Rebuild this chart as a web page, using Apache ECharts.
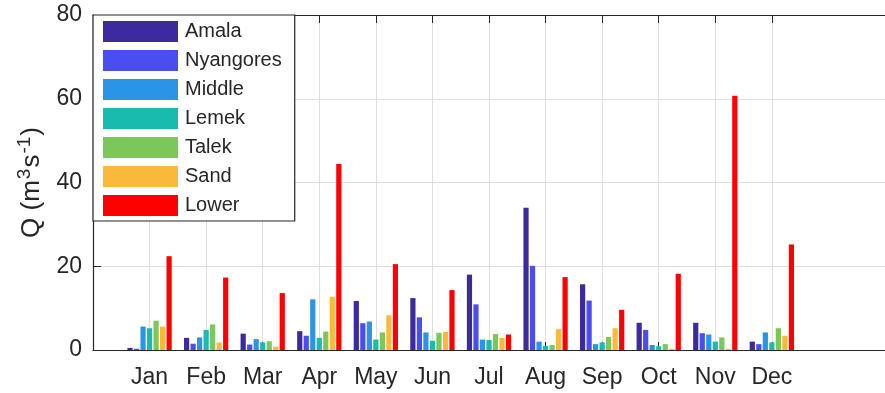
<!DOCTYPE html>
<html>
<head>
<meta charset="utf-8">
<title>Monthly discharge</title>
<script src="https://cdn.jsdelivr.net/npm/echarts@6/dist/echarts.min.js"></script>
<style>
  html, body { margin: 0; padding: 0; background: #ffffff; }
  #chart { width: 885px; height: 393px; }
</style>
</head>
<body>
<div id="chart"></div>
<script>
// Mean monthly discharge (m3/s) per river station
const months = ['Jan', 'Feb', 'Mar', 'Apr', 'May', 'Jun', 'Jul', 'Aug', 'Sep', 'Oct', 'Nov', 'Dec'];
const stations = ['Amala', 'Nyangores', 'Middle', 'Lemek', 'Talek', 'Sand', 'Lower'];

const amala     = [0.5, 2.9, 3.9, 4.5, 11.7, 12.4, 18.0, 34.0, 15.7, 6.5, 6.5, 2.0];
const nyangores = [0.3, 1.5, 1.3, 3.4, 6.4, 7.8, 10.9, 20.1, 11.8, 4.8, 4.0, 1.4];
const middle    = [5.6, 3.0, 2.6, 12.1, 6.8, 4.2, 2.5, 2.0, 1.4, 1.2, 3.7, 4.2];
const lemek     = [5.2, 4.8, 1.8, 2.9, 2.5, 2.2, 2.4, 1.0, 1.8, 0.9, 2.0, 1.8];
const talek     = [7.0, 6.1, 2.1, 4.4, 4.2, 4.1, 3.8, 1.2, 3.1, 1.4, 3.0, 5.2];
const sand      = [5.6, 1.8, 0.8, 12.7, 8.3, 4.3, 2.9, 5.0, 5.2, 0.3, 0.3, 3.4];
const lower     = [22.4, 17.3, 13.6, 44.4, 20.5, 14.3, 3.7, 17.4, 9.6, 18.2, 60.7, 25.2];

const seriesValues = [amala, nyangores, middle, lemek, talek, sand, lower];
const colors = ['#3c2a9e', '#4a4ef0', '#2a95e6', '#18bbae', '#7cc65a', '#fbb93c', '#ff0000'];

const yTicks = [0, 20, 40, 60, 80];

// The x scale runs from 0 to 14 with months placed at 1..12
const axisCats = [''].concat(months, ['', '']);
const isMonth = (idx, name) => name !== '';

const font = 'Liberation Sans, Arial, Helvetica, sans-serif';
const ink = '#262626';

const chart = echarts.init(document.getElementById('chart'), null, { renderer: 'canvas' });

const xCommon = {
  type: 'category',
  data: axisCats,
  boundaryGap: false,
  min: 0,
  max: axisCats.length - 1,
  axisLine: { show: true, lineStyle: { color: ink, width: 1.2 } },
  axisTick: { show: true, inside: true, length: 8, interval: isMonth, lineStyle: { color: ink } }
};

chart.setOption({
  animation: false,
  backgroundColor: '#ffffff',
  grid: { left: 93, top: 15, width: 804, height: 335, containLabel: false },
  legend: {
    data: stations,
    orient: 'vertical',
    left: 93,
    top: 15,
    padding: [6, 13, 5, 10],
    itemWidth: 75,
    itemHeight: 21,
    itemGap: 8,
    icon: 'rect',
    backgroundColor: '#ffffff',
    borderColor: ink,
    borderWidth: 1.2,
    textStyle: { fontFamily: font, fontSize: 20, color: ink, lineHeight: 21, padding: [0, 0, 0, 2] }
  },
  xAxis: [
    Object.assign({}, xCommon, {
      position: 'bottom',
      axisLabel: {
        show: true, interval: isMonth, margin: 16,
        fontFamily: font, fontSize: 23, color: ink
      },
      splitLine: { show: true, interval: isMonth, lineStyle: { color: '#dedede', width: 1 } }
    }),
    Object.assign({}, xCommon, {
      position: 'top',
      axisLabel: { show: false },
      splitLine: { show: false }
    })
  ],
  yAxis: {
    type: 'value',
    min: yTicks[0],
    max: yTicks[yTicks.length - 1],
    interval: yTicks[1] - yTicks[0],
    axisLine: { show: true, lineStyle: { color: ink, width: 1.2 } },
    axisTick: { show: true, inside: true, length: 8, lineStyle: { color: ink } },
    axisLabel: { margin: 11, fontFamily: font, fontSize: 23, color: ink },
    splitLine: { show: true, lineStyle: { color: '#dedede', width: 1 } },
    name: '{a|Q (m}{b|3}{a|s}{b|-1}{a|)}',
    nameLocation: 'middle',
    nameGap: 45,
    nameRotate: 90,
    nameTextStyle: {
      color: ink,
      rich: {
        a: { fontFamily: font, fontSize: 26, color: ink },
        b: { fontFamily: font, fontSize: 19, color: ink, verticalAlign: 'top', padding: [0, 1, 14, 1] }
      }
    }
  },
  series: stations.map((name, i) => ({
    name: name,
    type: 'bar',
    xAxisIndex: 0,
    data: [null].concat(seriesValues[i], [null, null]),
    itemStyle: { color: colors[i] },
    barGap: '25%',
    barCategoryGap: '21.7%'
  }))
});
</script>
</body>
</html>
